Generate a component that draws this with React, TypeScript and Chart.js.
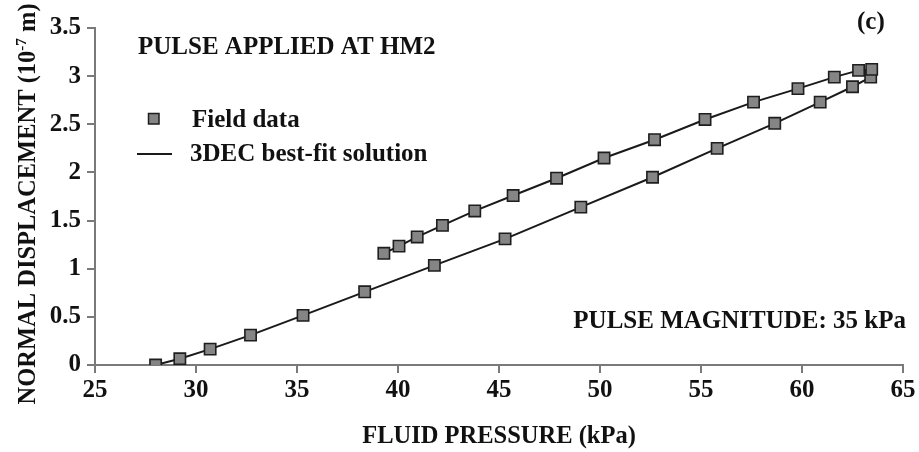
import React, { useEffect, useRef } from 'react';
import { Chart, registerables } from 'chart.js';

Chart.register(...registerables);

const FONT = "'Liberation Serif', 'Times New Roman', serif";

// Field data: loading branch (fluid pressure kPa, displacement 1e-7 m)
const loadingPressure = [28.0, 29.2, 30.7, 32.7, 35.3, 38.35, 41.8, 45.3, 49.05, 52.6, 55.8, 58.65, 60.9, 62.5, 63.4];
const loadingDisp = [0.0, 0.065, 0.165, 0.31, 0.515, 0.76, 1.035, 1.31, 1.64, 1.95, 2.25, 2.51, 2.73, 2.89, 2.99];
// Field data: unloading branch
const unloadingPressure = [63.45, 62.8, 61.6, 59.8, 57.6, 55.2, 52.7, 50.2, 47.85, 45.7, 43.8, 42.2, 40.95, 40.05, 39.3];
const unloadingDisp = [3.07, 3.06, 2.99, 2.87, 2.73, 2.55, 2.34, 2.15, 1.94, 1.76, 1.6, 1.45, 1.33, 1.235, 1.16];

const xTicks = [25, 30, 35, 40, 45, 50, 55, 60, 65];
const yTicks = [0, 0.5, 1, 1.5, 2, 2.5, 3, 3.5];

const seriesNames = ['Field data', '3DEC best-fit solution'];
const xTitle = 'FLUID PRESSURE (kPa)';
const yTitleMain = 'NORMAL DISPLACEMENT (10';
const yTitleSup = '-7';
const yTitleEnd = ' m)';
const noteTop = 'PULSE APPLIED AT HM2';
const noteBottom = 'PULSE MAGNITUDE: 35 kPa';
const panelLabel = '(c)';

const fieldPoints = [
  ...loadingPressure.map((x, i) => ({ x, y: loadingDisp[i] })),
  ...unloadingPressure.map((x, i) => ({ x, y: unloadingDisp[i] })),
];
const fitPoints = fieldPoints.slice();

const textPlugin = {
  id: 'customTexts',
  afterDraw(chart: any) {
    const ctx = chart.ctx as CanvasRenderingContext2D;
    const area = chart.chartArea;
    ctx.save();
    ctx.fillStyle = '#111';
    ctx.textBaseline = 'alphabetic';

    // top-left note
    ctx.font = `bold 25px ${FONT}`;
    ctx.textAlign = 'left';
    ctx.fillText(noteTop, 138, 54);

    // panel label
    ctx.fillText(panelLabel, 857, 29);

    // bottom-right note
    ctx.textAlign = 'right';
    ctx.fillText(noteBottom, 906, 328);

    // legend
    const pts = chart.data.datasets[0];
    ctx.textAlign = 'left';
    ctx.fillStyle = pts.backgroundColor;
    ctx.strokeStyle = pts.borderColor;
    ctx.lineWidth = 1.5;
    ctx.fillRect(148.5, 113.5, 10.5, 10.5);
    ctx.strokeRect(148.5, 113.5, 10.5, 10.5);
    ctx.fillStyle = '#111';
    ctx.fillText(seriesNames[0], 192, 127);
    const ln = chart.data.datasets[1];
    ctx.strokeStyle = ln.borderColor;
    ctx.lineWidth = 2;
    ctx.beginPath();
    ctx.moveTo(137, 154);
    ctx.lineTo(172, 154);
    ctx.stroke();
    ctx.fillText(seriesNames[1], 190, 161);

    // x title
    ctx.font = `bold 24.5px ${FONT}`;
    ctx.textAlign = 'center';
    ctx.fillText(xTitle, (area.left + area.right) / 2, 443);

    // y title (rotated, with superscript)
    const mainFont = `bold 24.5px ${FONT}`;
    const supFont = `bold 15px ${FONT}`;
    ctx.font = mainFont;
    const w1 = ctx.measureText(yTitleMain).width;
    const w3 = ctx.measureText(yTitleEnd).width;
    ctx.font = supFont;
    const w2 = ctx.measureText(yTitleSup).width;
    const total = w1 + w2 + w3;
    ctx.translate(35, 204);
    ctx.rotate(-Math.PI / 2);
    ctx.textAlign = 'left';
    let cx = -total / 2;
    ctx.font = mainFont;
    ctx.fillText(yTitleMain, cx, 0);
    cx += w1;
    ctx.font = supFont;
    ctx.fillText(yTitleSup, cx, -9);
    cx += w2;
    ctx.font = mainFont;
    ctx.fillText(yTitleEnd, cx, 0);
    ctx.restore();
  },
};

export default function App() {
  const ref = useRef<HTMLCanvasElement | null>(null);

  useEffect(() => {
    if (!ref.current) return;
    const axisColor = '#7a7a7a';
    const tickFont = { family: FONT, size: 25, weight: 'bold' as const };
    const chart = new Chart(ref.current, {
      type: 'scatter',
      data: {
        datasets: [
          {
            label: seriesNames[0],
            data: fieldPoints,
            showLine: false,
            pointStyle: 'rect',
            pointRadius: 8,
            pointHoverRadius: 8,
            backgroundColor: '#858585',
            borderColor: '#1e1e1e',
            borderWidth: 1.6,
            order: 0,
          },
          {
            label: seriesNames[1],
            data: fitPoints,
            showLine: true,
            pointRadius: 0,
            pointHoverRadius: 0,
            borderColor: '#1a1a1a',
            backgroundColor: '#1a1a1a',
            borderWidth: 2,
            tension: 0,
            order: 1,
          },
        ],
      },
      options: {
        animation: false,
        responsive: false,
        devicePixelRatio: 1,
        layout: { padding: { left: 0, top: 28, right: 16, bottom: 0 } },
        plugins: { legend: { display: false }, tooltip: { enabled: false } },
        scales: {
          x: {
            type: 'linear',
            min: xTicks[0],
            max: xTicks[xTicks.length - 1],
            afterBuildTicks: (s: any) => {
              s.ticks = xTicks.map((v) => ({ value: v }));
            },
            ticks: { font: tickFont, color: '#111', padding: 3, maxRotation: 0, callback: (v: any) => String(v) },
            grid: { drawOnChartArea: false, drawTicks: true, tickLength: 8, color: axisColor, lineWidth: 2 },
            border: { display: true, color: axisColor, width: 2 },
            afterFit: (s: any) => {
              s.height = 87;
            },
          },
          y: {
            type: 'linear',
            min: yTicks[0],
            max: yTicks[yTicks.length - 1],
            afterBuildTicks: (s: any) => {
              s.ticks = yTicks.map((v) => ({ value: v }));
            },
            ticks: { font: tickFont, color: '#111', padding: 6, callback: (v: any) => String(v) },
            grid: { drawOnChartArea: false, drawTicks: true, tickLength: 8, color: axisColor, lineWidth: 2 },
            border: { display: true, color: axisColor, width: 2 },
            afterFit: (s: any) => {
              s.width = 95;
            },
          },
        },
      } as any,
      plugins: [textPlugin],
    });
    return () => chart.destroy();
  }, []);

  return (
    <div style={{ position: 'fixed', left: 0, top: 0, width: 919, height: 452, background: '#fff' }}>
      <canvas ref={ref} width={919} height={452} style={{ display: 'block' }} />
    </div>
  );
}
